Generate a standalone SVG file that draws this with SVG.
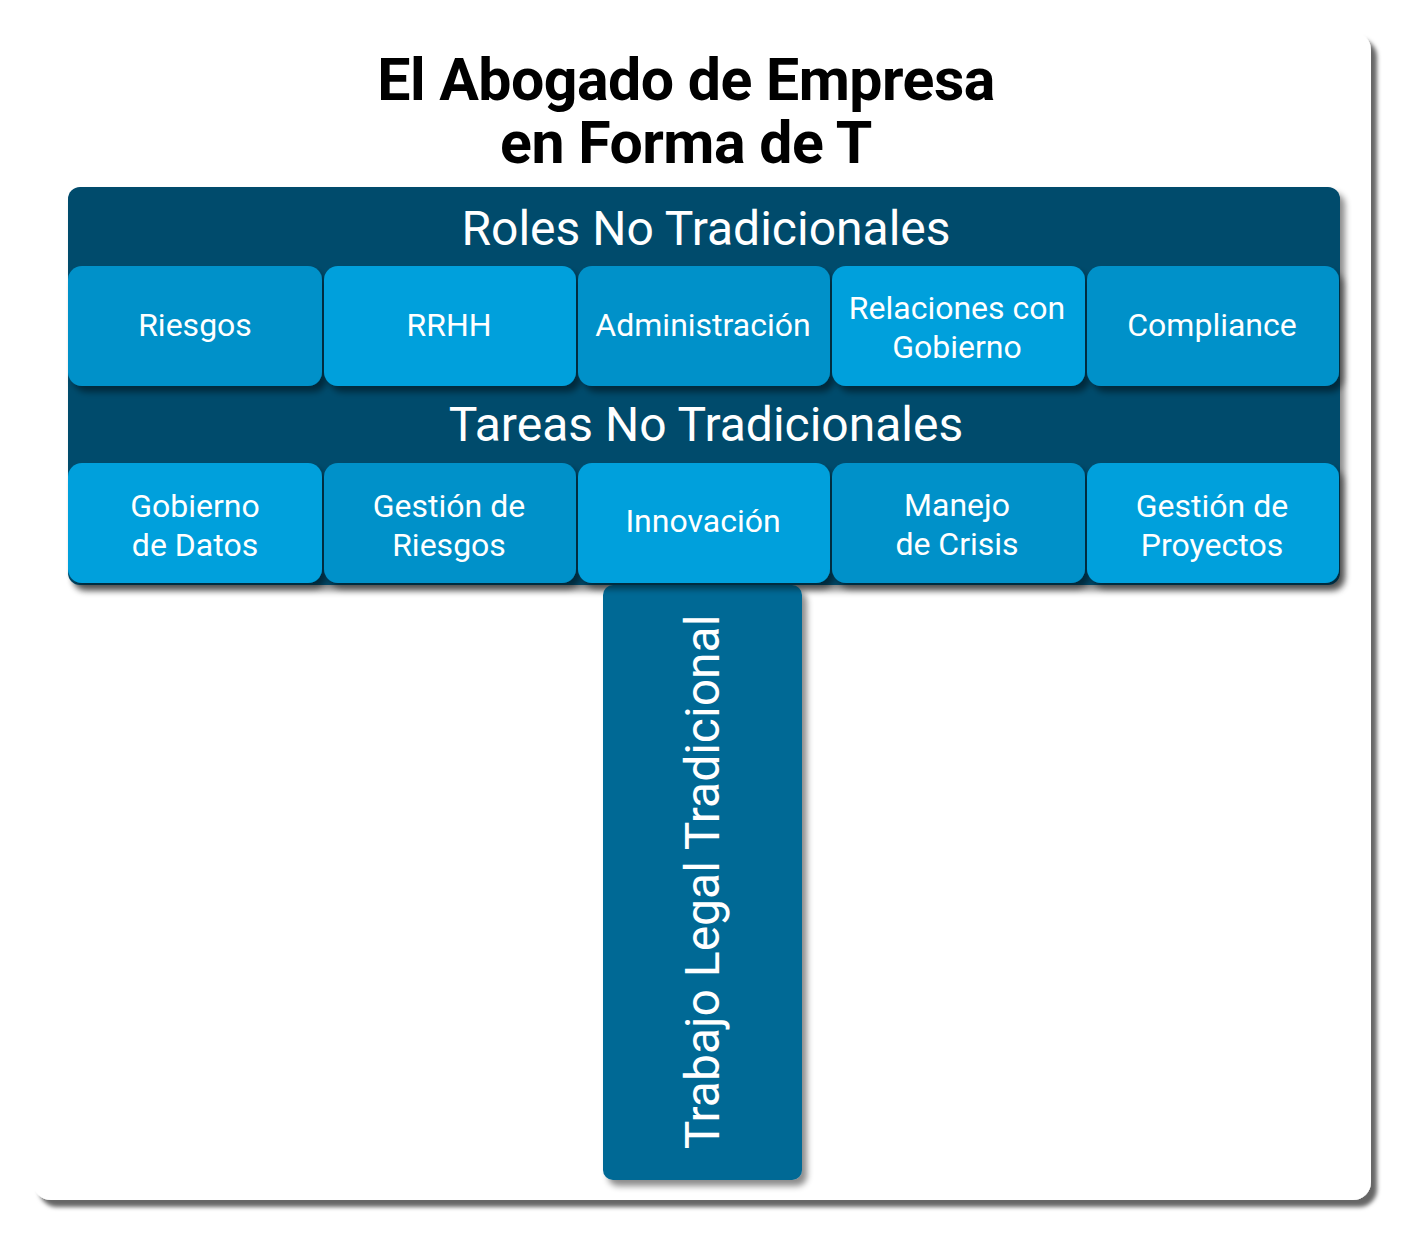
<svg xmlns="http://www.w3.org/2000/svg" width="1404" height="1240" viewBox="0 0 1404 1240">
<defs>
<filter id="sh" x="-10%" y="-10%" width="130%" height="130%">
<feDropShadow dx="5" dy="6" stdDeviation="3" flood-color="#000" flood-opacity="0.45"/>
</filter>
<filter id="cardsh" x="-5%" y="-5%" width="110%" height="110%">
<feDropShadow dx="6" dy="7" stdDeviation="2" flood-color="#000" flood-opacity="0.6"/>
</filter>
</defs>
<style>
.t{font-family:Roboto,"Liberation Sans",sans-serif;fill:#fff;text-anchor:middle}
.box{font-size:32px}
.hd{font-size:48px}
.dk{fill:#0391c9}
.lt{fill:#03a0dc}
.ttl{font-family:Roboto,"Liberation Sans",sans-serif;font-weight:bold;font-size:59px;text-anchor:middle;fill:#000;letter-spacing:-0.5px}
</style>
<rect width="1404" height="1240" fill="#fff"/>
<g id="card"><rect x="33" y="32" width="1338" height="1168" rx="18" fill="#fff" filter="url(#cardsh)"/></g>
<g id="title">
<text class="ttl" x="686" y="100">El Abogado de Empresa</text>
<text class="ttl" x="686" y="163">en Forma de T</text>
</g>
<g id="panel"><rect x="68" y="187" width="1272" height="398" rx="12" fill="#034b6c" filter="url(#sh)"/></g>
<g id="stem">
<rect x="603" y="585" width="199" height="595" rx="10" fill="#036995" filter="url(#sh)"/>
<text class="t" font-size="48" transform="translate(719,882) rotate(-90)">Trabajo Legal Tradicional</text>
</g>
<g id="roles-header"><text class="t hd" x="706" y="245">Roles No Tradicionales</text></g>
<g id="tareas-header"><text class="t hd" x="706" y="441">Tareas No Tradicionales</text></g>
<g id="r1"><rect class="dk" x="68" y="266" width="254" height="120" rx="14" filter="url(#sh)"/><text class="t box" x="195" y="336">Riesgos</text></g>
<g id="r2"><rect class="lt" x="324" y="266" width="252" height="120" rx="14" filter="url(#sh)"/><text class="t box" x="449" y="336">RRHH</text></g>
<g id="r3"><rect class="dk" x="578" y="266" width="252" height="120" rx="14" filter="url(#sh)"/><text class="t box" x="703" y="336">Administración</text></g>
<g id="r4"><rect class="lt" x="832" y="266" width="253" height="120" rx="14" filter="url(#sh)"/><text class="t box" x="957" y="319">Relaciones con</text><text class="t box" x="957" y="358">Gobierno</text></g>
<g id="r5"><rect class="dk" x="1087" y="266" width="252" height="120" rx="14" filter="url(#sh)"/><text class="t box" x="1212" y="336">Compliance</text></g>
<g id="t1"><rect class="lt" x="68" y="463" width="254" height="120" rx="14" filter="url(#sh)"/><text class="t box" x="195" y="517">Gobierno</text><text class="t box" x="195" y="556">de Datos</text></g>
<g id="t2"><rect class="dk" x="324" y="463" width="252" height="120" rx="14" filter="url(#sh)"/><text class="t box" x="449" y="517">Gestión de</text><text class="t box" x="449" y="556">Riesgos</text></g>
<g id="t3"><rect class="lt" x="578" y="463" width="252" height="120" rx="14" filter="url(#sh)"/><text class="t box" x="703" y="532">Innovación</text></g>
<g id="t4"><rect class="dk" x="832" y="463" width="253" height="120" rx="14" filter="url(#sh)"/><text class="t box" x="957" y="516">Manejo</text><text class="t box" x="957" y="555">de Crisis</text></g>
<g id="t5"><rect class="lt" x="1087" y="463" width="252" height="120" rx="14" filter="url(#sh)"/><text class="t box" x="1212" y="517">Gestión de</text><text class="t box" x="1212" y="556">Proyectos</text></g>
<g id="connectors"/>
</svg>
